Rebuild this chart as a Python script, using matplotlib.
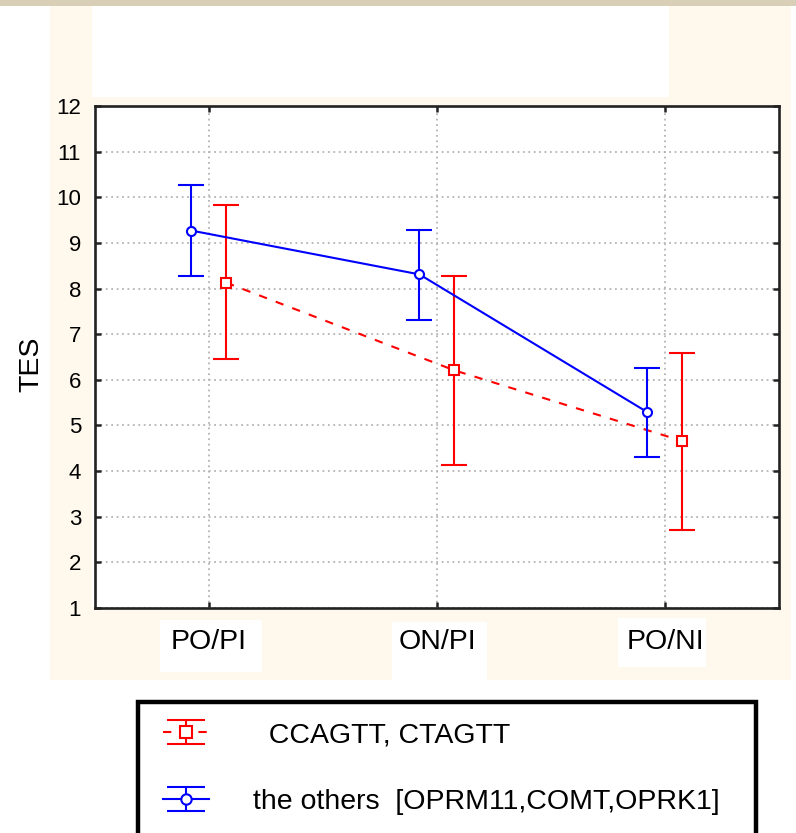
import matplotlib
matplotlib.use("Agg")
import matplotlib.pyplot as plt
from matplotlib import font_manager
from matplotlib.lines import Line2D
from matplotlib.patches import Rectangle
from matplotlib.legend_handler import HandlerErrorbar

# ==========================================
# DATA
# ==========================================

categories = ['PO/PI', 'ON/PI', 'PO/NI']

red_label = '  CCAGTT, CTAGTT'
red_mean = [8.13, 6.21, 4.66]
red_upper = [9.84, 8.27, 6.59]
red_lower = [6.46, 4.13, 2.71]

blue_label = 'the others  [OPRM11,COMT,OPRK1]'
blue_mean = [9.27, 8.31, 5.29]
blue_upper = [10.26, 9.29, 6.26]
blue_lower = [8.27, 7.31, 4.30]

y_ticks = list(range(1, 13))

# ==========================================
# FONTS
# ==========================================

names = {f.name for f in font_manager.fontManager.ttflist}
narrow = 'Liberation Sans Narrow' if 'Liberation Sans Narrow' in names else 'Liberation Sans'
big = 22.5 if narrow == 'Liberation Sans Narrow' else 20.5

# ==========================================
# FIGURE + BACKGROUND
# ==========================================

W, H = 796, 833
fig = plt.figure(figsize=(W / 100, H / 100), dpi=100)
fig.patch.set_facecolor('white')

beige = '#fff8ec'


def fbox(x0, y0, x1, y1, color):
    fig.add_artist(Rectangle((x0 / W, 1 - y1 / H), (x1 - x0) / W, (y1 - y0) / H,
                             transform=fig.transFigure, facecolor=color,
                             lw=0, zorder=-10))


fbox(0, 0, W, 6, '#d9cfb6')
fbox(50, 6, 92, 640, beige)
fbox(92, 97, 669, 110, beige)
fbox(669, 6, 791, 680, beige)
fbox(50, 606, 791, 680, beige)
fbox(160, 620, 262, 672, 'white')
fbox(392, 622, 487, 680, 'white')
fbox(618, 618, 706, 667, 'white')

# ==========================================
# AXES
# ==========================================

ax = fig.add_axes([95 / W, 1 - 608 / H, (779 - 95) / W, (608 - 106) / H])
ax.set_facecolor('white')

x = list(range(len(categories)))
xb = [i - 0.077 for i in x]
xr = [i + 0.075 for i in x]

red_err = [[m - lo for m, lo in zip(red_mean, red_lower)],
           [hi - m for m, hi in zip(red_mean, red_upper)]]
blue_err = [[m - lo for m, lo in zip(blue_mean, blue_lower)],
            [hi - m for m, hi in zip(blue_mean, blue_upper)]]

red = ax.errorbar(xr, red_mean, yerr=red_err, color='#ff0000', lw=1.5,
                  linestyle=(0, (4, 4.5)), elinewidth=1.5, capsize=9.5,
                  capthick=1.5, marker='s', markersize=7,
                  markerfacecolor='white', markeredgewidth=1.5, zorder=3)
blue = ax.errorbar(xb, blue_mean, yerr=blue_err, color='#0000ff', lw=1.5,
                   linestyle='-', elinewidth=1.5, capsize=9.5,
                   capthick=1.5, marker='o', markersize=6.5,
                   markerfacecolor='white', markeredgewidth=1.5, zorder=4)

ax.set_xlim(-0.5, 2.5)
ax.set_ylim(1, 12)
ax.set_yticks(y_ticks)
ax.set_yticklabels([str(t) for t in y_ticks], fontsize=16,
                   fontfamily='Liberation Sans')
ax.set_xticks(x)
ax.set_xticklabels(categories, fontsize=big, fontfamily=narrow)

ax.tick_params(axis='both', direction='in', length=4, width=1.8,
               top=True, right=True, colors='#222222', labelcolor='black')
ax.tick_params(axis='y', pad=10)
ax.tick_params(axis='x', pad=15)

ax.grid(True, color='#b4b4b4', linestyle=(0, (1, 2)), linewidth=1.3)
ax.set_axisbelow(True)

for s in ax.spines.values():
    s.set_linewidth(1.9)
    s.set_color('#222222')

fig.text(31 / W, 1 - 364 / H, 'TES', rotation=90, ha='center', va='center',
         fontsize=big, family=narrow)

# ==========================================
# LEGEND (box drawn separately, runs off the bottom)
# ==========================================


class WideCaps(HandlerErrorbar):
    # legend symbol in the original has wider caps than the plot
    def create_artists(self, *args, **kwargs):
        arts = super().create_artists(*args, **kwargs)
        for a in arts:
            if isinstance(a, Line2D) and a.get_marker() == '_':
                a.set_markersize(28)
        return arts


fig.add_artist(Rectangle((138 / W, -0.05), (756 - 138) / W, 1 - 702 / H + 0.05,
                         transform=fig.transFigure, facecolor='white',
                         edgecolor='black', lw=3.2, zorder=2))

leg = fig.legend([red, blue], [red_label, blue_label],
                 loc='upper left', bbox_to_anchor=(163 / W, 1 - 722 / H),
                 frameon=False, prop={'family': narrow, 'size': big},
                 handlelength=1.6, handletextpad=1.56, labelspacing=1.45,
                 borderpad=0, borderaxespad=0, markerscale=1.15,
                 handler_map={type(red): WideCaps(yerr_size=0.42)})
leg.set_zorder(5)

plt.savefig('out.png', dpi=100)
